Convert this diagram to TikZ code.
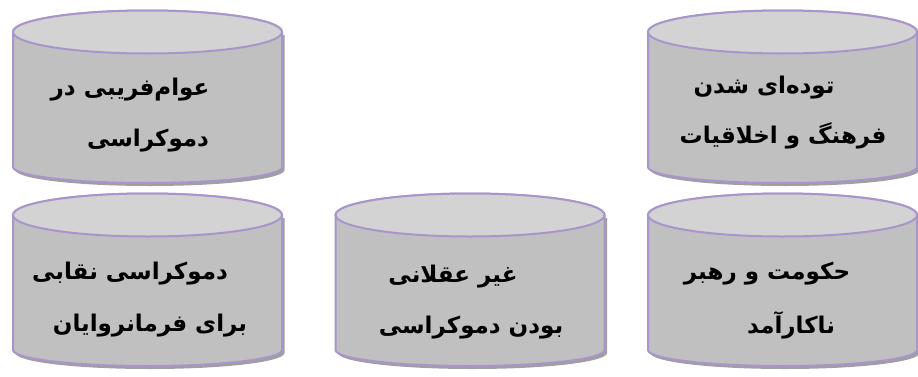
\documentclass[tikz,border=0pt]{standalone}
\usepackage{fontspec}
\newfontfamily\arabicfont[Script=Arabic]{DejaVu Sans}
\TeXXeTstate=1
\usepackage{tikz}

\definecolor{canedge}{HTML}{A896CB}
\definecolor{canside}{HTML}{C0C0C0}
\definecolor{cantop}{HTML}{D3D3D3}
\definecolor{canshade}{HTML}{9F9F9F}

\tikzset{
  canbody/.style={fill=canside, draw=canedge, line width=2pt},
  canlid/.style={fill=cantop, draw=canedge, line width=2pt},
  canshadow/.style={fill=canshade, xshift=2.5pt, yshift=-3pt},
  cantext/.style={font=\arabicfont\bfseries\fontsize{23}{27}\selectfont, inner sep=0pt}
}

\begin{document}
\begin{tikzpicture}[x=1pt,y=1pt]

\useasboundingbox (0,0) rectangle (918,376);

% five cans: centre x / top / bottom
\foreach \x/\t/\b in {147.5/344/209, 782.5/344/209, 147.5/161/26, 470/161/26, 782.5/161/26}
{
    \fill[canshadow] (\x-134.5,\t) -- (\x-134.5,\b)
        arc[start angle=180, end angle=360, x radius=134.5pt, y radius=16pt]
        -- (\x+134.5,\t) -- cycle;
    \draw[canbody] (\x-134.5,\t) -- (\x-134.5,\b)
        arc[start angle=180, end angle=360, x radius=134.5pt, y radius=16pt]
        -- (\x+134.5,\t)
        arc[start angle=0, end angle=180, x radius=134.5pt, y radius=21.5pt] -- cycle;
    \draw[canlid] (\x,\t) ellipse [x radius=134.5pt, y radius=21.5pt];
}

\node[cantext] (tl1) at (130,286) {\beginR عوام^^^^200cفریبی در\endR};
\node[cantext] (tl2) at (148,235) {\beginR دموکراسی\endR};

\node[cantext] (tr1) at (764,288) {\beginR توده^^^^200cای شدن\endR};
\node[cantext] (tr2) at (783,240) {\beginR فرهنگ و اخلاقیات\endR};

\node[cantext] (bl1) at (130,102) {\beginR دموکراسی نقابی\endR};
\node[cantext] (bl2) at (150,50) {\beginR برای فرمانروایان\endR};

\node[cantext] (bm1) at (453,99) {\beginR غیر عقلانی\endR};
\node[cantext] (bm2) at (471,48) {\beginR بودن دموکراسی\endR};

\node[cantext] (br1) at (767,102) {\beginR حکومت و رهبر\endR};
\node[cantext] (br2) at (791,51) {\beginR ناکارآمد\endR};

\end{tikzpicture}
\end{document}
